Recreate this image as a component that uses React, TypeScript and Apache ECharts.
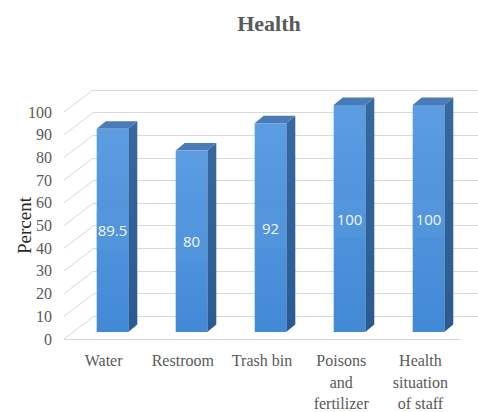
import React, { useEffect, useRef } from "react";
import * as echarts from "echarts";

// Chart data
const categories = [
  "Water",
  "Restroom",
  "Trash bin",
  "Poisons\nand\nfertilizer",
  "Health\nsituation\nof staff",
];
const percentValues = [89.5, 80, 92, 100, 100];
const yTicks = [0, 10, 20, 30, 40, 50, 60, 70, 80, 90, 100];

// Pseudo-3D layout: front plane (axis labels), back wall (gridlines), bar plane
const FRONT = { left: 64, top: 112, width: 396, height: 227 };
const BACK = { left: 93, top: 90, width: 396, height: 226 };
const BARS = { left: 73, top: 105, width: 395, height: 227 };
const WALL_DX = BACK.left - FRONT.left;
const WALL_DY = BACK.top - FRONT.top;
const BAR_DX = 9;
const BAR_DY = -7.5;
const GRID_COLOR = "#d9d9d9";
const SERIF = "'Liberation Serif', 'Times New Roman', serif";

const valueAxis = (show: boolean) => ({
  type: "value" as const,
  min: 0,
  max: 100,
  interval: 10,
  show,
});

export default function App() {
  const ref = useRef<HTMLDivElement>(null);

  useEffect(() => {
    if (!ref.current) return;
    const chart = echarts.init(ref.current, undefined, { renderer: "svg" });

    const gridBase = { containLabel: false, outerBoundsMode: "none" };

    const option: any = {
      animation: false,
      backgroundColor: "#ffffff",
      title: {
        text: "Health",
        left: 264,
        top: 7,
        textAlign: "center",
        textStyle: {
          fontFamily: SERIF,
          fontWeight: "bold",
          fontSize: 22,
          color: "#595959",
        },
      },
      grid: [
        { ...FRONT, ...gridBase },
        { ...BACK, ...gridBase },
        { ...BARS, ...gridBase },
      ],
      xAxis: [
        {
          gridIndex: 0,
          type: "category",
          data: categories,
          axisLine: { show: true, lineStyle: { color: GRID_COLOR, width: 1 } },
          axisTick: { show: false },
          axisLabel: {
            interval: 0,
            margin: 11,
            fontFamily: SERIF,
            fontSize: 16,
            lineHeight: 21.5,
            color: "#595959",
          },
          splitLine: { show: false },
        },
        { gridIndex: 1, type: "category", data: categories, show: false },
        { gridIndex: 2, type: "category", data: categories, show: false },
      ],
      yAxis: [
        {
          gridIndex: 0,
          ...valueAxis(true),
          name: "Percent",
          nameLocation: "middle",
          nameRotate: 90,
          nameGap: 30,
          nameMoveOverlap: false,
          nameTextStyle: { fontFamily: SERIF, fontSize: 19, color: "#262626" },
          axisLine: { show: false },
          axisTick: { show: false },
          splitLine: { show: false },
          axisLabel: {
            margin: 12,
            fontFamily: SERIF,
            fontSize: 16,
            color: "#595959",
          },
        },
        {
          gridIndex: 1,
          ...valueAxis(true),
          axisLine: { show: false },
          axisTick: { show: false },
          axisLabel: { show: false },
          splitLine: { show: true, lineStyle: { color: GRID_COLOR, width: 1 } },
        },
        { gridIndex: 2, ...valueAxis(false) },
      ],
      series: [
        {
          // side-wall diagonals joining the front scale to the back wall
          type: "custom",
          xAxisIndex: 0,
          yAxisIndex: 0,
          z: 1,
          silent: true,
          data: yTicks.map((v) => [0, v]),
          renderItem: (params: any, api: any) => {
            const y = api.coord([0, api.value(1)])[1];
            const x0 = params.coordSys.x;
            return {
              type: "line",
              shape: { x1: x0, y1: y, x2: x0 + WALL_DX, y2: y + WALL_DY },
              style: { stroke: GRID_COLOR, lineWidth: 1 },
            };
          },
        },
        {
          // 3D columns with value labels
          type: "custom",
          xAxisIndex: 2,
          yAxisIndex: 2,
          z: 5,
          data: percentValues.map((v, i) => [i, v]),
          renderItem: (params: any, api: any) => {
            const idx = api.value(0);
            const val = api.value(1);
            const [cx, yTop] = api.coord([idx, val]);
            const yBot = api.coord([idx, 0])[1];
            const bw = api.size([1, 0])[0] * 0.4;
            const xl = cx - bw / 2;
            const xr = cx + bw / 2;
            const midY = (yTop + yBot) / 2;
            return {
              type: "group",
              children: [
                {
                  type: "polygon",
                  shape: {
                    points: [
                      [xr, yTop],
                      [xr + BAR_DX, yTop + BAR_DY],
                      [xr + BAR_DX, yBot + BAR_DY],
                      [xr, yBot],
                    ],
                  },
                  style: {
                    fill: new echarts.graphic.LinearGradient(0, 0, 0, 1, [
                      { offset: 0, color: "#35699f" },
                      { offset: 1, color: "#2b5a92" },
                    ]),
                  },
                },
                {
                  type: "polygon",
                  shape: {
                    points: [
                      [xl, yTop],
                      [xl + BAR_DX, yTop + BAR_DY],
                      [xr + BAR_DX, yTop + BAR_DY],
                      [xr, yTop],
                    ],
                  },
                  style: { fill: "#4a7bb6" },
                },
                {
                  type: "rect",
                  shape: { x: xl, y: yTop, width: bw, height: yBot - yTop },
                  style: {
                    fill: new echarts.graphic.LinearGradient(0, 0, 0, 1, [
                      { offset: 0, color: "#5c9de2" },
                      { offset: 1, color: "#4289d6" },
                    ]),
                  },
                },
                {
                  type: "rect",
                  shape: { x: xl, y: midY - 20, width: bw, height: 40 },
                  style: { fill: "#5a9adf", opacity: 0.35 },
                },
                {
                  type: "text",
                  x: cx,
                  y: midY,
                  style: {
                    text: String(val),
                    align: "center",
                    verticalAlign: "middle",
                    fill: "#f4f8fd",
                    fontFamily: "'Open Sans', 'Noto Sans', sans-serif",
                    fontSize: 15,
                  },
                },
              ],
            };
          },
        },
      ],
    };

    chart.setOption(option);
    return () => chart.dispose();
  }, []);

  return (
    <div
      ref={ref}
      style={{ position: "fixed", left: 0, top: 0, width: 478, height: 412 }}
    />
  );
}
